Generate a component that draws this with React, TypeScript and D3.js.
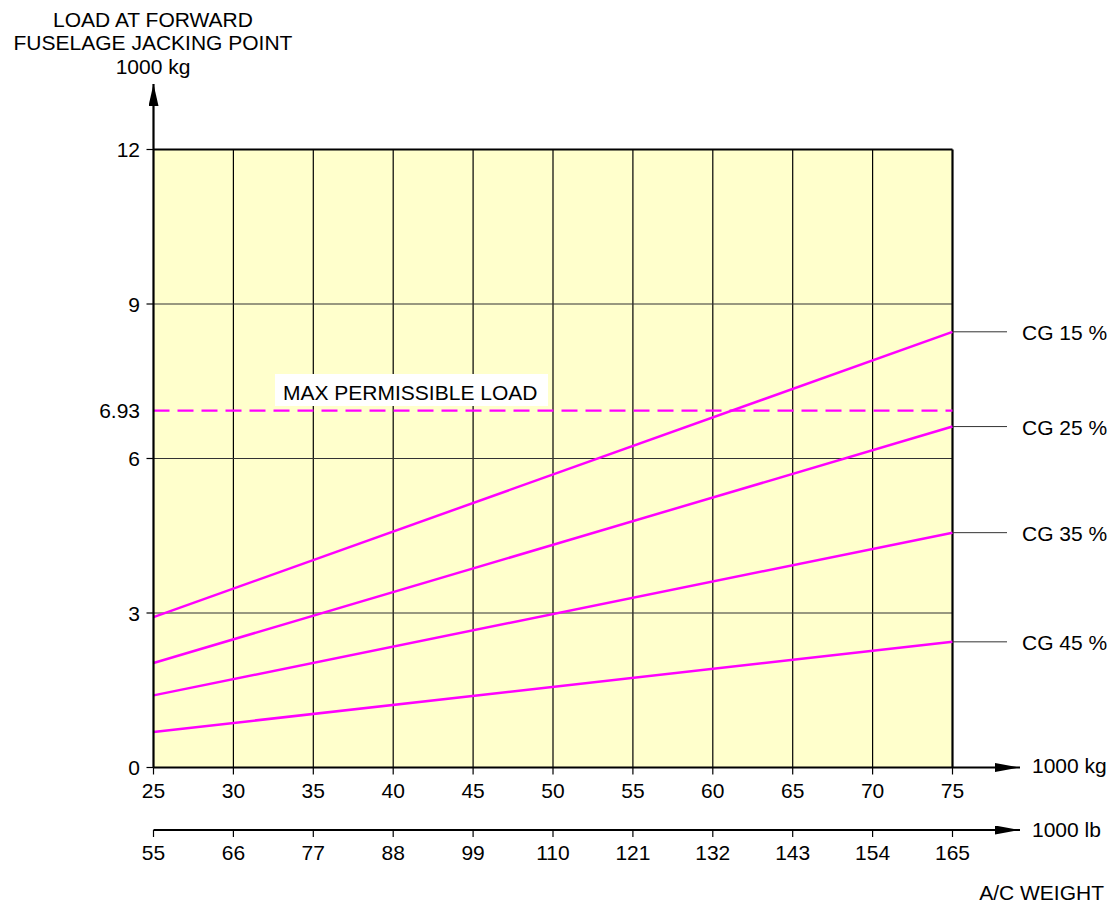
import React from "react";
import * as d3 from "d3";

const kgTicks = [25, 30, 35, 40, 45, 50, 55, 60, 65, 70, 75];
const lbTicks = [55, 66, 77, 88, 99, 110, 121, 132, 143, 154, 165];
const yTicks = [0, 3, 6, 9, 12];
const maxLoad = 6.93;
const seriesNames = ["CG 15 %", "CG 25 %", "CG 35 %", "CG 45 %"];
const seriesStart = [2.92, 2.03, 1.40, 0.69]; // load at 25 t
const seriesEnd = [8.46, 6.62, 4.56, 2.44]; // load at 75 t

export default function App() {
  const W = 1111, H = 906;
  const x = d3.scaleLinear().domain([25, 75]).range([153.5, 952.5]);
  const xlb = d3.scaleLinear().domain([55, 165]).range([153.5, 952.5]);
  const y = d3.scaleLinear().domain([0, 12]).range([767.5, 149.5]);
  const line = d3.line<[number, number]>().x(d => x(d[0])).y(d => y(d[1]));
  const font = "Liberation Sans, Arial, Helvetica, sans-serif";
  const magenta = "#ff00ff";
  const lbY = 830;
  const fs = 21;

  return (
    <svg width={W} height={H} style={{ position: "absolute", left: 0, top: 0, fontFamily: font }}>
      <defs>
        <marker id="arrV" viewBox="0 0 22 10" refX="22" refY="5" markerWidth="22" markerHeight="10" markerUnits="userSpaceOnUse" orient="auto">
          <path d="M0,0 L22,5 L0,10 z" fill="#000" />
        </marker>
        <marker id="arrH" viewBox="0 0 25 9" refX="25" refY="4.5" markerWidth="25" markerHeight="9" markerUnits="userSpaceOnUse" orient="auto">
          <path d="M0,0 L25,4.5 L0,9 z" fill="#000" />
        </marker>
      </defs>
      <rect x={x(25)} y={y(12)} width={x(75) - x(25)} height={y(0) - y(12)} fill="#ffffcc" />
      {kgTicks.slice(1, -1).map(k => (
        <line key={"v" + k} x1={x(k)} x2={x(k)} y1={y(12)} y2={y(0)} stroke="#000" strokeWidth={1.2} />
      ))}
      {yTicks.slice(1, -1).map(v => (
        <line key={"h" + v} x1={x(25)} x2={x(75)} y1={y(v)} y2={y(v)} stroke="#333" strokeWidth={1.2} />
      ))}
      <line x1={x(25)} x2={x(75)} y1={y(12)} y2={y(12)} stroke="#000" strokeWidth={2} />
      <line x1={x(75)} x2={x(75)} y1={y(12)} y2={y(0)} stroke="#000" strokeWidth={2.2} />

      <line x1={x(25)} x2={x(75)} y1={y(maxLoad)} y2={y(maxLoad)} stroke={magenta} strokeWidth={2.2} strokeDasharray="16 8" />
      <rect x={275} y={374} width={273} height={32} fill="#fff" />
      <text x={283} y={399.5} fontSize={fs} fill="#000">MAX PERMISSIBLE LOAD</text>

      {seriesNames.map((n, i) => (
        <g key={n}>
          <path d={line([[25, seriesStart[i]], [75, seriesEnd[i]]]) || ""} stroke={magenta} strokeWidth={2.5} fill="none" />
          <line x1={x(75)} x2={1007} y1={y(seriesEnd[i])} y2={y(seriesEnd[i])} stroke="#333" strokeWidth={1} />
          <text x={1022} y={y(seriesEnd[i]) + 8} fontSize={fs} fill="#000">{n}</text>
        </g>
      ))}

      <line x1={x(25)} x2={x(25)} y1={y(0)} y2={84} stroke="#000" strokeWidth={2.2} markerEnd="url(#arrV)" />
      {yTicks.map(v => (
        <g key={"yt" + v}>
          <line x1={x(25) - 7} x2={x(25)} y1={y(v)} y2={y(v)} stroke="#000" strokeWidth={1.2} />
          <text x={140} y={y(v) + 7.5} fontSize={fs} textAnchor="end">{v}</text>
        </g>
      ))}
      <text x={140} y={y(maxLoad) + 7.5} fontSize={fs} textAnchor="end">{maxLoad}</text>
      <text x={153} y={26.5} fontSize={fs} textAnchor="middle">LOAD AT FORWARD</text>
      <text x={153} y={49.5} fontSize={fs} textAnchor="middle">FUSELAGE JACKING POINT</text>
      <text x={153} y={74} fontSize={fs} textAnchor="middle">1000 kg</text>

      <line x1={x(25)} x2={1020} y1={y(0)} y2={y(0)} stroke="#000" strokeWidth={2.2} markerEnd="url(#arrH)" />
      {kgTicks.map(k => (
        <g key={"xt" + k}>
          <line x1={x(k)} x2={x(k)} y1={y(0)} y2={y(0) + 7} stroke="#000" strokeWidth={1.2} />
          <text x={x(k)} y={798} fontSize={fs} textAnchor="middle">{k}</text>
        </g>
      ))}
      <text x={1032} y={773} fontSize={fs}>1000 kg</text>

      <line x1={xlb(55)} x2={1020} y1={lbY} y2={lbY} stroke="#000" strokeWidth={2.2} markerEnd="url(#arrH)" />
      {lbTicks.map(k => (
        <g key={"lt" + k}>
          <line x1={xlb(k)} x2={xlb(k)} y1={lbY} y2={lbY + 7} stroke="#000" strokeWidth={1.2} />
          <text x={xlb(k)} y={860} fontSize={fs} textAnchor="middle">{k}</text>
        </g>
      ))}
      <text x={1032} y={837} fontSize={fs}>1000 lb</text>
      <text x={1104} y={900} fontSize={fs} textAnchor="end">A/C WEIGHT</text>
    </svg>
  );
}
